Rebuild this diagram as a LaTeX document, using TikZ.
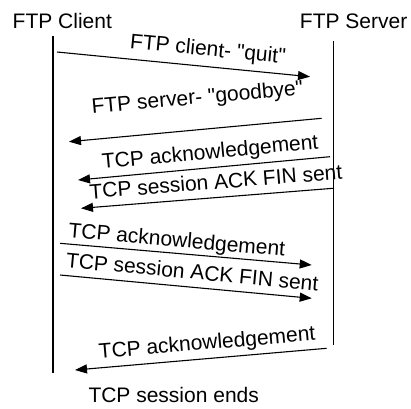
\documentclass[tikz,border=0pt]{standalone}
\usepackage{fontspec}
\setmainfont{Liberation Sans}
\usetikzlibrary{arrows.meta}

\begin{document}
\begin{tikzpicture}[
		x=1pt, y=-1pt,
		lifeline/.style={line width=1.4pt},
		msg/.style={line width=1.1pt, -{Triangle[length=12pt, width=9pt]}},
		actor/.style={font=\fontsize{21}{25}\selectfont, inner sep=0pt},
		msg text/.style={font=\fontsize{21}{25}\selectfont, inner sep=0pt, text depth=0pt, sloped, above=#1},
		msg text/.default=8pt
		]
		
		% =========================================================
		% Frame and actors
		% =========================================================
		\useasboundingbox (0,0) rectangle (411,408);
		
		\node[actor, anchor=base west] (client) at (12.5,28.3) {FTP Client};
		\node[actor, anchor=base east] (server) at (407.5,28.3) {FTP Server};
		
		% Lifelines
		\coordinate (cli top) at (53,36);
		\coordinate (cli bot) at (53,373);
		\coordinate (srv top) at (333.3,41);
		\coordinate (srv bot) at (333.3,345);
		\draw[lifeline] (cli top) -- (cli bot);
		\draw[lifeline] (srv top) -- (srv bot);
		
		% =========================================================
		% Message end points
		% =========================================================
		\coordinate (m1a) at (57,52);      \coordinate (m1b) at (310,76.7);
		\coordinate (m2a) at (321.7,118.3); \coordinate (m2b) at (69,141.7);
		\coordinate (m3a) at (330,156.7);   \coordinate (m3b) at (78,180);
		\coordinate (m4a) at (333,188.3);   \coordinate (m4b) at (81,208.3);
		\coordinate (m5a) at (60,243.3);    \coordinate (m5b) at (311.7,265);
		\coordinate (m6a) at (60,275);      \coordinate (m6b) at (311.7,298.3);
		\coordinate (m7a) at (326.7,348.3); \coordinate (m7b) at (75,370);
		
		% =========================================================
		% Messages
		% =========================================================
		\draw[msg] (m1a) -- (m1b) node[msg text=10pt, pos=0.59] (l1) {FTP client- \textquotedbl quit\textquotedbl};
		\draw[msg] (m2a) -- (m2b) node[msg text=25pt, pos=0.48] (l2) {FTP server- \textquotedbl goodbye\textquotedbl};
		\draw[msg] (m3a) -- (m3b) node[msg text=8.5pt, pos=0.47] (l3) {TCP acknowledgement};
		\draw[msg] (m4a) -- (m4b) node[msg text=8pt, pos=0.46] (l4) {TCP session ACK FIN sent};
		\draw[msg] (m5a) -- (m5b) node[msg text=6pt, pos=0.46] (l5) {TCP acknowledgement};
		\draw[msg] (m6a) -- (m6b) node[msg text=7.5pt, pos=0.52] (l6) {TCP session ACK FIN sent};
		\draw[msg] (m7a) -- (m7b) node[msg text=8.5pt, pos=0.47] (l7) {TCP acknowledgement};
		
		% Closing note
		\node[actor, anchor=base west] (ends) at (88.3,402) {TCP session ends};
		
	\end{tikzpicture}
\end{document}
